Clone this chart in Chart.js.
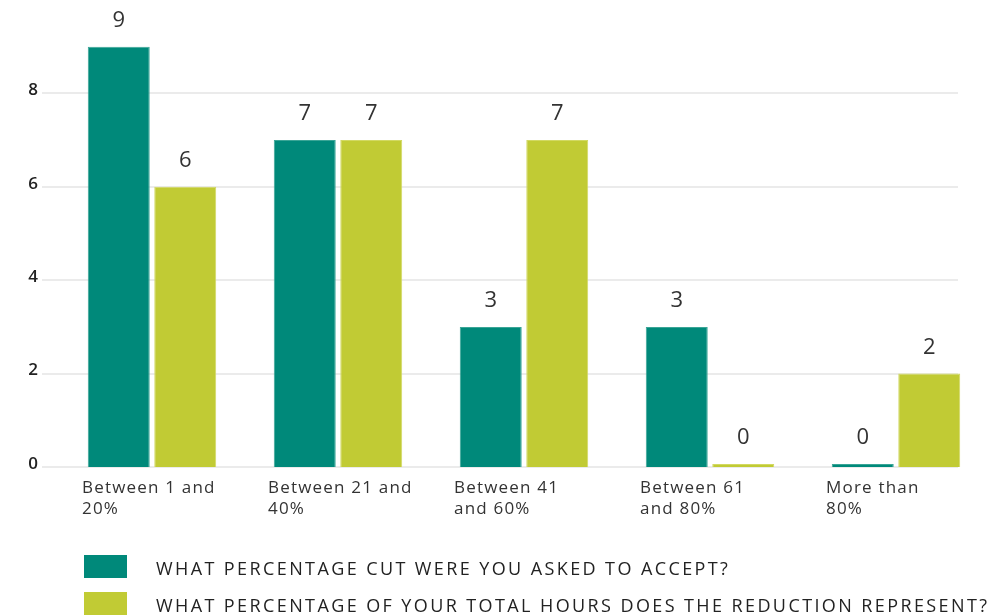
<!DOCTYPE html>
<html>
<head>
<meta charset="utf-8">
<script src="https://cdn.jsdelivr.net/npm/chart.js@4.4.1/dist/chart.umd.min.js"></script>
<style>
  html, body { margin: 0; padding: 0; background: #ffffff; }
  #wrap { width: 1000px; height: 616px; position: relative; }
</style>
</head>
<body>
<div id="wrap"><canvas id="c"></canvas></div>
<script>
// ---- data ----
const categories = [
  ['Between 1 and', '20%'],
  ['Between 21 and', '40%'],
  ['Between 41', 'and 60%'],
  ['Between 61', 'and 80%'],
  ['More than', '80%']
];
const cutAsked = [9, 7, 3, 3, 0];
const hoursReduction = [6, 7, 7, 0, 2];
const seriesNames = [
  'WHAT PERCENTAGE CUT WERE YOU ASKED TO ACCEPT?',
  'WHAT PERCENTAGE OF YOUR TOTAL HOURS DOES THE REDUCTION REPRESENT?'
];
const yTickValues = [0, 2, 4, 6, 8];

// ---- styles ----
const TEAL = '#00897a';
const LIME = '#c1cb34';
const GRID = '#ebebeb';

const gridPlugin = {
  id: 'gridPlugin',
  beforeDatasetsDraw(chart) {
    const ctx = chart.ctx, y = chart.scales.y, a = chart.chartArea;
    ctx.save();
    ctx.strokeStyle = GRID;
    ctx.lineWidth = 2;
    yTickValues.forEach(v => {
      const py = Math.round(y.getPixelForValue(v));
      ctx.beginPath();
      ctx.moveTo(a.left - 17, py);
      ctx.lineTo(a.right - 31, py);
      ctx.stroke();
    });
    ctx.restore();
  }
};

const labelPlugin = {
  id: 'labelPlugin',
  afterDatasetsDraw(chart) {
    const ctx = chart.ctx;
    ctx.save();
    ctx.font = '22px "Open Sans", sans-serif';
    ctx.fillStyle = '#333333';
    ctx.textAlign = 'center';
    ctx.textBaseline = 'middle';
    chart.data.datasets.forEach((ds, di) => {
      chart.getDatasetMeta(di).data.forEach((bar, i) => {
        ctx.fillText(String(ds.data[i]), bar.x, bar.y - 26);
      });
    });
    // x category labels, left aligned
    const x = chart.scales.x, a = chart.chartArea;
    ctx.font = '17px "Open Sans", sans-serif';
    ctx.letterSpacing = '1.2px';
    ctx.fillStyle = '#333333';
    ctx.textAlign = 'left';
    categories.forEach((lines, i) => {
      const px = x.getPixelForValue(i) - 70;
      lines.forEach((t, li) => {
        ctx.fillText(t, px, a.bottom + 21 + li * 21);
      });
    });
    // legend
    const colors = [TEAL, LIME];
    ctx.font = '18px "Open Sans", sans-serif';
    ctx.letterSpacing = '2.4px';
    seriesNames.forEach((name, i) => {
      const top = a.bottom + 88 + i * 37;
      ctx.fillStyle = colors[i];
      ctx.fillRect(84, top, 43, 23);
      ctx.fillStyle = '#222222';
      ctx.textBaseline = 'middle';
      ctx.fillText(name, 156, top + 15);
    });
    ctx.restore();
  }
};

new Chart(document.getElementById('c'), {
  type: 'bar',
  data: {
    labels: categories,
    datasets: [
      { label: seriesNames[0], data: cutAsked, backgroundColor: TEAL, borderColor: '#3aa596', borderWidth: 1 },
      { label: seriesNames[1], data: hoursReduction, backgroundColor: LIME, borderColor: '#d2d962', borderWidth: 1 }
    ]
  },
  options: {
    responsive: true,
    maintainAspectRatio: false,
    animation: false,
    layout: { padding: { top: 0, right: 11, bottom: 149, left: 0 } },
    datasets: {
      bar: { categoryPercentage: 0.715, barPercentage: 0.932, minBarLength: 3 }
    },
    plugins: {
      legend: { display: false },
      tooltip: { enabled: false }
    },
    scales: {
      x: { display: false, offset: true },
      y: {
        min: 0, max: 10,
        grid: { display: false, drawTicks: false },
        border: { display: false },
        ticks: {
          stepSize: 2,
          padding: 21,
          labelOffset: -3,
          color: '#222222',
          font: { family: '"Open Sans", sans-serif', size: 17, weight: '600' },
          callback: v => (yTickValues.includes(v) ? String(v) : '')
        },
        afterFit(scale) {
          scale.width = 59;
          scale.paddingTop = 0;
          scale.paddingBottom = 0;
        }
      }
    }
  },
  plugins: [gridPlugin, labelPlugin]
});
</script>
</body>
</html>
